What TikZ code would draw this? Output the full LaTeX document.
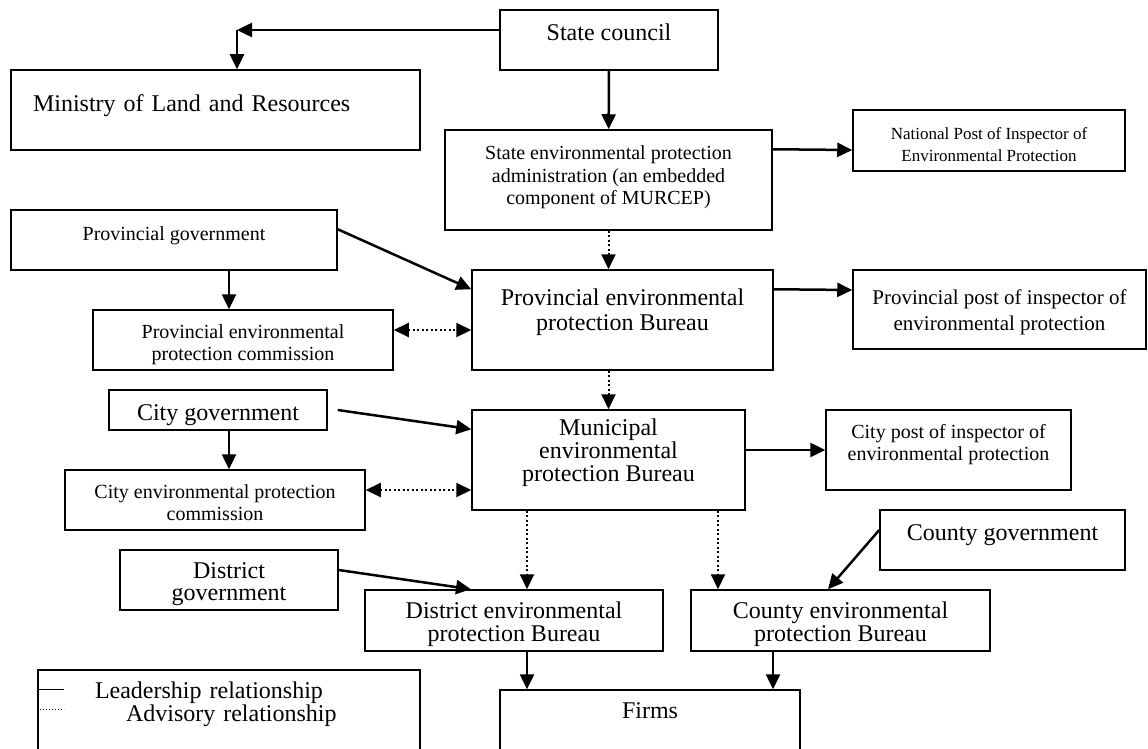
\documentclass[tikz,border=0pt]{standalone}
\usepackage{fontspec}
\setmainfont{Liberation Serif}
\usetikzlibrary{arrows.meta}
\tikzset{
  unit/.style n args={3}{draw, line width=1.5pt, inner sep=0pt, anchor=base, align=center,
    minimum width=#1, text height=#2, text depth=#3},
  bigtxt/.style={font=\fontsize{24}{23}\selectfont},
  midtxt/.style={font=\fontsize{20}{21.5}\selectfont},
  lead/.style={line width=2.5pt, -{Triangle[length=15pt,width=14pt]}},
  advise/.style={line width=2pt, dash pattern=on 2pt off 2.5pt, -{Triangle[length=15pt,width=14pt]}},
}
\begin{document}
\begin{tikzpicture}[x=1pt, y=-1pt]
        \useasboundingbox (0,0) rectangle (1148,749);
        \clip (0,0) rectangle (1148,749);

        \node[unit={218pt}{31pt}{29pt}, bigtxt] (SC) at (609,41) {State council};
        \node[unit={409pt}{42pt}{38pt}, bigtxt, text width=365pt, align=left] (MLR) at (215.5,112) {Ministry of Land and Resources};
        \node[unit={327pt}{74pt}{26pt}, font=\fontsize{20}{22}\selectfont] (SEPA) at (608.5,204) {State environmental protection\\administration (an embedded\\component of MURCEP)};
        \node[unit={272pt}{51pt}{10pt}, font=\fontsize{17}{22}\selectfont] (NPI) at (989,161) {National Post of Inspector of\\Environmental Protection};

        \node[unit={326pt}{30pt}{30pt}, midtxt] (PG) at (174,240) {Provincial government};
        \node[unit={300pt}{50pt}{10pt}, midtxt] (PEPC) at (243,360) {Provincial environmental\\protection commission};
        \node[unit={301pt}{60pt}{40pt}, font=\fontsize{24}{25}\selectfont] (PEPB) at (622.5,330) {Provincial environmental\\protection Bureau};
        \node[unit={293pt}{60pt}{19pt}, font=\fontsize{21}{26}\selectfont] (PPI) at (999.5,330) {Provincial post of inspector of\\environmental protection};

        \node[unit={218pt}{30pt}{10pt}, bigtxt] (CG) at (218,420) {City government};
        \node[unit={300pt}{50pt}{10pt}, midtxt] (CEPC) at (215,520) {City environmental protection\\commission};
        \node[unit={273pt}{71pt}{29pt}, bigtxt] (MEPB) at (608.5,481) {Municipal\\environmental\\protection Bureau};
        \node[unit={245pt}{50pt}{30pt}, midtxt] (CPI) at (948.5,460) {City post of inspector of\\environmental protection};

        \node[unit={245pt}{30pt}{30pt}, bigtxt] (CoG) at (1002.5,540) {County government};
        \node[unit={218pt}{50pt}{10pt}, font=\fontsize{24}{22}\selectfont] (DG) at (229,600) {District\\government};
        \node[unit={298pt}{51pt}{10pt}, bigtxt] (DEPB) at (514,641) {District environmental\\protection Bureau};
        \node[unit={299pt}{51pt}{10pt}, bigtxt] (CoEPB) at (840.5,641) {County environmental\\protection Bureau};

        \node[unit={300pt}{28pt}{60pt}, bigtxt] (FI) at (650,718) {Firms};
        \node[unit={382pt}{28pt}{80pt}, bigtxt, text width=268pt, align=left] (LEG) at (229,698) {Leadership relationship\\\hspace*{31pt}Advisory relationship};

        \coordinate (bend) at (237,30);
        \draw[lead] (SC.west |- bend) -- (bend);
        \draw[lead] (bend) -- (bend |- MLR.north);
        \draw[lead] (SC) -- (SEPA);
        \draw[lead] ([yshift=-20pt]SEPA.north east) -- ([yshift=-9.5pt]NPI.west);
        \draw[advise] (SEPA.south) -- ([xshift=-14pt]PEPB.north);

        \draw[lead] ([yshift=-20pt]PG.north east) -- ([yshift=-20pt]PEPB.north west);
        \draw[lead] ([xshift=55pt]PG.south) -- ([xshift=-14pt]PEPC.north);
        \draw[advise, {Triangle[length=15pt,width=14pt]}-{Triangle[length=15pt,width=14pt]}] ([yshift=10pt]PEPC.east) -- ([yshift=-10pt]PEPB.west);
        \draw[lead] ([yshift=-20pt]PEPB.north east) -- ([yshift=19.5pt]PPI.west);
        \draw[advise] ([xshift=-14pt]PEPB.south) -- (MEPB.north);

        \draw[lead] ([xshift=10pt]CG.east) -- ([yshift=-20pt]MEPB.north west);
        \draw[lead] ([xshift=11pt]CG.south) -- ([xshift=14pt]CEPC.north);
        \draw[advise, {Triangle[length=15pt,width=14pt]}-{Triangle[length=15pt,width=14pt]}] ([yshift=10pt]CEPC.east) -- ([yshift=-30pt]MEPB.west);
        \draw[lead] ([yshift=10pt]MEPB.east) -- (CPI.west);
        \draw[advise] ([xshift=-81.5pt]MEPB.south) -- ([xshift=13pt]DEPB.north);
        \draw[advise] ([xshift=109.5pt]MEPB.south) -- ([xshift=-122.5pt]CoEPB.north);

        \draw[lead] ([yshift=10pt]CoG.west) -- ([xshift=-12.5pt]CoEPB.north);
        \draw[lead] ([yshift=10pt]DG.east) -- ([xshift=-43pt]DEPB.north);
        \draw[lead] ([xshift=13pt]DEPB.south) -- ([xshift=-123pt]FI.north);
        \draw[lead] ([xshift=-67.5pt]CoEPB.south) -- ([xshift=123pt]FI.north);

        \draw[line width=1pt] ([yshift=-20pt]LEG.north west) -- ++(27,0);
        \draw[line width=1pt, dotted] ([yshift=-40pt]LEG.north west) -- ++(27,0);
    \end{tikzpicture}
\end{document}
